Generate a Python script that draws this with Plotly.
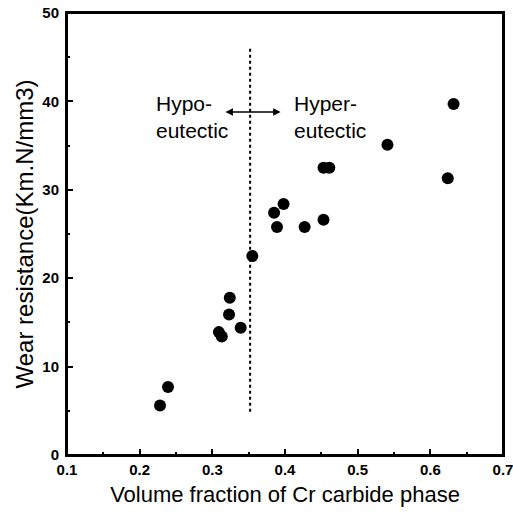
import plotly.graph_objects as go

# Data
vol_fraction = [0.228, 0.239, 0.309, 0.313, 0.323, 0.324, 0.339, 0.355,
                0.385, 0.389, 0.398, 0.427, 0.453, 0.453, 0.461, 0.541, 0.624, 0.632]
wear_res = [5.6, 7.7, 13.9, 13.4, 15.9, 17.8, 14.4, 22.5,
            27.4, 25.8, 28.4, 25.8, 26.6, 32.5, 32.5, 35.1, 31.3, 39.7]

boundary_x = [0.352, 0.352]
boundary_y = [4.9, 46.3]

arrow_y = 38.8
arrow_x0, arrow_x1 = 0.316, 0.394

x_ticks = [0.1, 0.2, 0.3, 0.4, 0.5, 0.6, 0.7]
y_ticks = [0, 10, 20, 30, 40, 50]

fig = go.Figure()
fig.add_trace(go.Scatter(x=boundary_x, y=boundary_y, mode="lines",
                         line=dict(color="black", width=2, dash="dot"),
                         showlegend=False, hoverinfo="skip"))
fig.add_trace(go.Scatter(x=vol_fraction, y=wear_res, mode="markers",
                         marker=dict(color="black", size=12),
                         showlegend=False))

fig.add_annotation(x=arrow_x1, y=arrow_y, ax=arrow_x0, ay=arrow_y,
                   xref="x", yref="y", axref="x", ayref="y",
                   showarrow=True, arrowhead=2, arrowside="end+start",
                   arrowsize=1, arrowwidth=1.5, arrowcolor="black", text="")

txt_font = dict(family="Liberation Sans, Arial", size=21, color="black")
fig.add_annotation(x=0.220, y=38.2, xref="x", yref="y", text="Hypo-<br>eutectic",
                   showarrow=False, xanchor="left", yanchor="middle", align="left",
                   font=txt_font)
fig.add_annotation(x=0.410, y=38.2, xref="x", yref="y", text="Hyper-<br>eutectic",
                   showarrow=False, xanchor="left", yanchor="middle", align="left",
                   font=txt_font)

# frame around the plotting area
fig.add_shape(type="rect", xref="paper", yref="paper", x0=0, y0=0, x1=1, y1=1,
              line=dict(color="black", width=2), layer="above")

tick_font = dict(family="Liberation Sans, Arial", size=15, color="black", weight="bold")
fig.update_xaxes(range=[0.1, 0.7], tickvals=x_ticks, ticktext=[str(v) for v in x_ticks],
                 ticks="inside", ticklen=6, tickwidth=1.5, tickcolor="black",
                 minor=dict(ticks="inside", dtick=0.05, tick0=0.1, ticklen=3, tickcolor="black"),
                 showline=True, linecolor="black", linewidth=2, mirror=True,
                 showgrid=False, zeroline=False, tickfont=tick_font, ticklabeloverflow="allow",
                 title=dict(text="Volume fraction of Cr carbide phase",
                            font=dict(family="Liberation Sans, Arial", size=22, color="black"),
                            standoff=10))
fig.update_yaxes(range=[0, 50], tickvals=y_ticks,
                 ticks="inside", ticklen=6, tickwidth=1.5, tickcolor="black",
                 minor=dict(ticks="inside", dtick=5, tick0=0, ticklen=3, tickcolor="black"),
                 showline=True, linecolor="black", linewidth=2, mirror=True,
                 showgrid=False, zeroline=False, tickfont=tick_font, ticklabelstandoff=3,
                 ticklabeloverflow="allow",
                 title=dict(text="Wear resistance(Km.N/mm3)",
                            font=dict(family="Liberation Sans, Arial", size=24, color="black"),
                            standoff=2))
fig.update_layout(width=513, height=516, plot_bgcolor="white", paper_bgcolor="white",
                  margin=dict(l=67, r=10, t=13, b=61, autoexpand=False))
fig.write_html("out.html", config={"displayModeBar": False},
               post_script="document.body.style.margin='0';document.body.style.overflow='hidden';")
